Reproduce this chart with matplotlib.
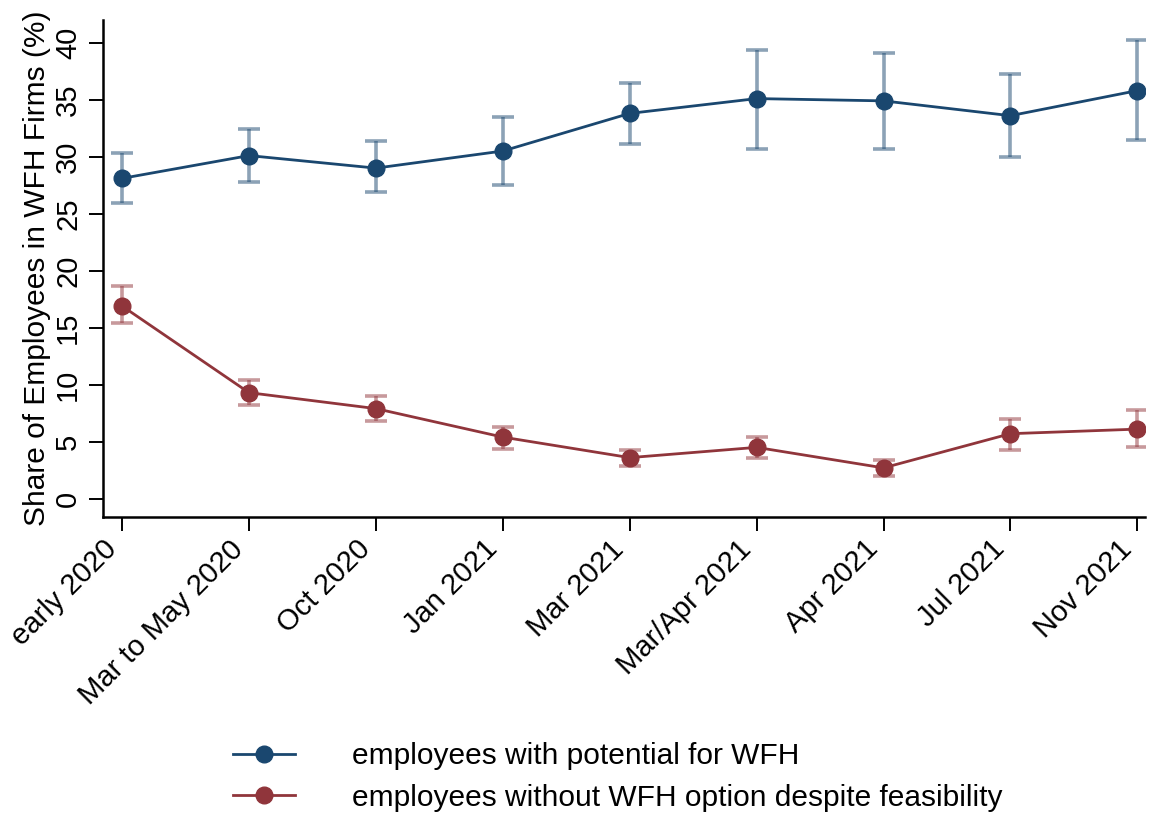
import numpy as np
import matplotlib
matplotlib.use("Agg")
import matplotlib.pyplot as plt

plt.rcParams["font.family"] = ["Liberation Sans", "DejaVu Sans"]

# survey waves
waves = ["early 2020", "Mar to May 2020", "Oct 2020", "Jan 2021", "Mar 2021",
         "Mar/Apr 2021", "Apr 2021", "Jul 2021", "Nov 2021"]

# employees with potential for WFH
pot_mean = [28.1, 30.1, 29.0, 30.5, 33.8, 35.1, 34.9, 33.6, 35.8]
pot_lo = [25.9, 27.8, 26.9, 27.5, 31.1, 30.7, 30.7, 30.0, 31.5]
pot_hi = [30.3, 32.4, 31.4, 33.5, 36.5, 39.4, 39.1, 37.3, 40.2]

# employees without WFH option despite feasibility
noopt_mean = [16.9, 9.3, 7.9, 5.4, 3.6, 4.5, 2.7, 5.7, 6.1]
noopt_lo = [15.4, 8.2, 6.8, 4.4, 2.9, 3.6, 2.0, 4.3, 4.5]
noopt_hi = [18.7, 10.4, 9.0, 6.3, 4.3, 5.4, 3.4, 7.0, 7.8]

yticks = [0, 5, 10, 15, 20, 25, 30, 35, 40]

blue = "#1a476f"
red = "#90353b"

fig = plt.figure(figsize=(11.5, 8.14), dpi=100)
ax = fig.add_axes([0.0896, 0.365, 0.906, 0.6105])

x = np.arange(len(waves))


def draw(mean, lo, hi, color, label):
    mean = np.array(mean)
    err = np.vstack([mean - np.array(lo), np.array(hi) - mean])
    ax.errorbar(x, mean, yerr=err, fmt="none", ecolor=color, alpha=0.5,
                elinewidth=2.6, capsize=8, capthick=2.6, zorder=2)
    ax.plot(x, mean, color=color, lw=2.0, marker="o", markersize=12,
            label=label, zorder=3)


draw(pot_mean, pot_lo, pot_hi, blue, "employees with potential for WFH")
draw(noopt_mean, noopt_lo, noopt_hi, red,
     "employees without WFH option despite feasibility")

ax.set_xlim(-0.15, 8.06)
ax.set_ylim(-1.6, 42.0)
ax.set_xticks(x)
ax.set_xticklabels(waves, rotation=45, ha="right", fontsize=21)
ax.set_yticks(yticks)
ax.set_yticklabels([str(v) for v in yticks], rotation=90, va="center",
                   fontsize=21)
ax.tick_params(axis="both", length=10, width=1.4, color="black", pad=5)
ax.tick_params(axis="x", pad=3)
ax.set_ylabel("Share of Employees in WFH Firms (%)", fontsize=21.5, labelpad=2)

for side in ["top", "right"]:
    ax.spines[side].set_visible(False)
for side in ["left", "bottom"]:
    ax.spines[side].set_linewidth(1.8)

handles, labels = ax.get_legend_handles_labels()
leg = fig.legend(handles, labels, loc="lower center",
                 bbox_to_anchor=(0.537, -0.03), frameon=False, fontsize=21.5,
                 handlelength=2.1, markerscale=1.0, labelspacing=0.45,
                 handletextpad=1.9)

fig.savefig("out.png", dpi=100, facecolor="white")
